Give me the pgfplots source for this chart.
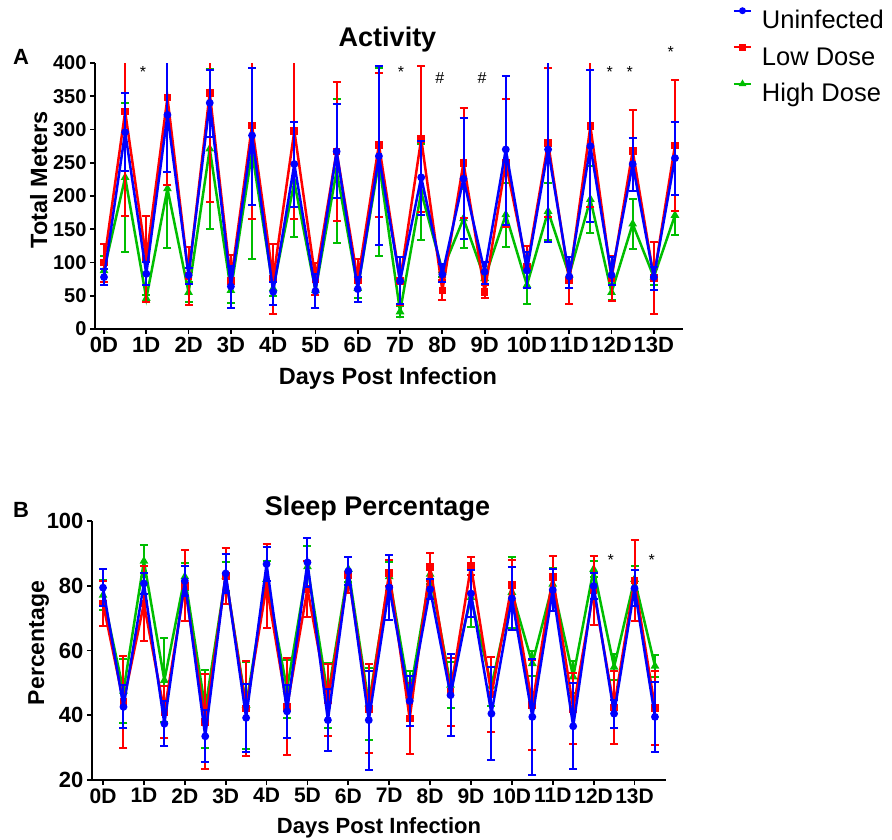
\documentclass[border=0pt]{standalone}
\usepackage{pgfplots}
\pgfplotsset{compat=1.18}
\usepackage{pgfplotstable}
\usepackage{fontspec}
\setmainfont{Liberation Sans}
\definecolor{gpblue}{RGB}{0,0,255}
\definecolor{gpred}{RGB}{255,0,0}
\definecolor{gpgreen}{RGB}{0,190,0}
\newcommand\fs[1]{\fontsize{#1}{#1}\selectfont}

% Panel A: Activity (Total Meters)
\pgfplotstableread{
x y ep em
0 78 12 12
0.5 296 59 59
1 83 18 17
1.5 322 90 86
2 81 11 14
2.5 340 50 52
3 64 30 32
3.5 291 101 104
4 56 15 20
4.5 248 63 64
5 57 26 26
5.5 267 71 70
6 60 18 20
6.5 260 135 133
7 72 36 34
7.5 228 55 57
8 82 16 11
8.5 226 91 91
9 86 15 18
9.5 270 111 114
10 88 28 27
10.5 270 139 139
11 79 29 17
11.5 275 115 114
12 81 27 15
12.5 248 39 40
13 78 15 20
13.5 257 55 55
}\actU
\pgfplotstableread{
x y ep em
0 100 28 29
0.5 327 157 157
1 105 65 64
1.5 348 132 132
2 80 44 44
2.5 355 164 164
3 72 40 41
3.5 306 140 140
4 75 53 53
4.5 298 132 132
5 75 24 24
5.5 267 104 104
6 73 33 33
6.5 277 108 108
7 72 36 36
7.5 286 110 110
8 58 15 15
8.5 250 83 83
9 56 10 10
9.5 250 96 96
10 93 32 32
10.5 280 112 112
11 73 35 35
11.5 305 122 122
12 76 34 34
12.5 268 61 61
13 77 54 54
13.5 276 99 99
}\actL
\pgfplotstableread{
x y ep em
0 88 22 22
0.5 228 112 112
1 46 5 5
1.5 211 89 89
2 55 15 15
2.5 271 120 120
3 58 19 19
3.5 266 160 160
4 61 12 12
4.5 221 82 82
5 58 27 27
5.5 238 108 108
6 61 15 15
6.5 251 141 141
7 26 8 8
7.5 206 72 72
8 88 10 10
8.5 166 44 44
9 76 10 10
9.5 172 48 48
10 66 29 29
10.5 177 43 43
11 81 20 20
11.5 195 50 50
12 55 12 12
12.5 158 37 37
13 78 12 12
13.5 171 30 30
}\actH

% Panel B: Sleep Percentage
\pgfplotstableread{
x y ep em
0 79.4 5.8 5.8
0.5 42.6 6.6 6.6
1 80.7 3.3 3.3
1.5 37.4 6.9 6.9
2 81.5 4.6 4.6
2.5 33.5 8 8
3 83.8 6 6
3.5 39.2 10.5 10.5
4 86.7 5.3 5.3
4.5 41.2 8.2 8.2
5 87.2 7.5 7.5
5.5 38.5 9.5 9.5
6 84.5 4.3 4.3
6.5 38.5 15.3 15.3
7 79.5 10.1 10.1
7.5 44.4 7.7 7.7
8 78.9 3.1 3.1
8.5 46.2 12.7 12.7
9 77.6 7.3 7.3
9.5 40.5 14.3 14.3
10 76.1 9.7 9.7
10.5 39.5 18 18
11 78.7 6.6 6.6
11.5 36.6 13.3 13.3
12 79.9 3.9 3.9
12.5 40.5 4.3 4.3
13 79.2 5.6 5.6
13.5 39.5 10.7 10.7
}\slpU
\pgfplotstableread{
x y ep em
0 74.5 7 7
0.5 44.1 14.2 14.2
1 74.5 11.5 11.5
1.5 41 8 8
2 80 11 11
2.5 38 14.7 14.7
3 83 8.6 8.6
3.5 42.1 14.8 14.8
4 80 13 13
4.5 42.6 15 15
5 79 8.5 8.5
5.5 44.7 11 11
6 83.3 5.5 5.5
6.5 42 13.8 13.8
7 84 4 4
7.5 39 11 11
8 85.9 4.3 4.3
8.5 47.2 10.4 10.4
9 86.1 2.8 2.8
9.5 46.4 11.6 11.6
10 80.2 7.7 7.7
10.5 43.2 13.8 13.8
11 82.7 6.6 6.6
11.5 42 11 11
12 78.5 10.6 10.6
12.5 42.4 11.4 11.4
13 81.6 12.5 12.5
13.5 42.3 11.4 11.4
}\slpL
\pgfplotstableread{
x y ep em
0 77.1 4.6 4.6
0.5 47.5 10 10
1 87.6 5 5
1.5 50.8 13 13
2 82.8 4.2 4.2
2.5 42 12 12
3 82.8 4.4 4.4
3.5 43.1 13.5 13.5
4 82 5.5 5.5
4.5 48 9 9
5 85.9 6.5 6.5
5.5 46 10 10
6 85.1 3.8 3.8
6.5 43.5 11 11
7 82.8 4.5 4.5
7.5 46 7.8 7.8
8 83.6 3 3
8.5 49.3 7 7
9 76.4 9 9
9.5 49 6 6
10 78 11 11
10.5 56 4 4
11 80.5 5 5
11.5 51.9 5 5
12 85.1 2.5 2.5
12.5 54.9 3.9 3.9
13 82 4 4
13.5 55.2 3.5 3.5
}\slpH

\pgfplotsset{
  gpaxis/.style={
    scale only axis,
    axis x line*=bottom, axis y line*=left,
    axis line style={line width=1.8pt, black},
    every tick/.style={line width=1.8pt, black},
    tick align=outside,
    major tick length=5pt,
    xtick={0,...,13},
    xticklabels={0D,1D,2D,3D,4D,5D,6D,7D,8D,9D,10D,11D,12D,13D},
    clip mode=individual,
    /pgf/number format/assume math mode=true,
  },
  ser/.style={
    color=#1, line width=2.5pt, mark size=2.6pt,
    mark options={solid, fill=#1},
    /pgfplots/error bars/y dir=both,
    /pgfplots/error bars/y explicit,
    /pgfplots/error bars/error bar style={line width=2pt, color=#1},
    /pgfplots/error bars/error mark options={rotate=90, line width=2pt, mark size=4pt, color=#1},
  },
}

\begin{document}
\begin{tikzpicture}
\path[use as bounding box] (0pt,0pt) rectangle (892pt,-840pt);

% ---------- Panel A ----------
\begin{axis}[gpaxis,
  at={(95pt,-329pt)}, anchor=south west,
  width=588pt, height=266pt,
  xmin=-0.213, xmax=13.69, ymin=0, ymax=400,
  ytick={0,50,...,400},
  xticklabel style={font=\bfseries\fs{22}},
  yticklabel style={font=\bfseries\fs{20}},
  reverse legend,
  legend style={at={(axis description cs:1.085,1.2056)}, anchor=north west,
    draw=none, fill=none, inner sep=0pt, outer sep=0pt,
    font=\fs{25.5}, row sep=16pt,
    nodes={inner sep=0pt, text height=18.3pt, text depth=0pt},
    /tikz/every odd column/.append style={column sep=10pt}},
  legend cell align=left,
  legend image code/.code={\draw[mark repeat=2, mark phase=2, line width=2pt, mark size=2.4pt] plot coordinates {(0pt,9pt) (8.5pt,9pt) (17pt,9pt)};},
]
\addplot[ser=gpgreen, mark=triangle*] table[x=x, y=y, y error plus=ep, y error minus=em] {\actH};
\addplot[ser=gpred, mark=square*] table[x=x, y=y, y error plus=ep, y error minus=em] {\actL};
\addplot[ser=gpblue, mark=*] table[x=x, y=y, y error plus=ep, y error minus=em] {\actU};
\legend{High Dose, Low Dose, Uninfected}
\node[font=\fs{16}] at (axis cs:0.92,386) {*};
\node[font=\fs{16}] at (axis cs:7.02,386) {*};
\node[font=\fs{16}] at (axis cs:7.94,377) {\#};
\node[font=\fs{16}] at (axis cs:8.94,377) {\#};
\node[font=\fs{16}] at (axis cs:11.96,386) {*};
\node[font=\fs{16}] at (axis cs:12.43,386) {*};
\node[font=\fs{16}] at (axis cs:13.4,416) {*};
\end{axis}

% ---------- Panel B ----------
\begin{axis}[gpaxis,
  at={(92pt,-780pt)}, anchor=south west,
  width=574pt, height=259pt,
  xmin=-0.27, xmax=13.77, ymin=20, ymax=100,
  ytick={20,40,...,100},
  xticklabel style={font=\bfseries\fs{21}},
  yticklabel style={font=\bfseries\fs{22}},
]
\addplot[ser=gpgreen, mark=triangle*] table[x=x, y=y, y error plus=ep, y error minus=em] {\slpH};
\addplot[ser=gpred, mark=square*] table[x=x, y=y, y error plus=ep, y error minus=em] {\slpL};
\addplot[ser=gpblue, mark=*] table[x=x, y=y, y error plus=ep, y error minus=em] {\slpU};
\node[font=\fs{16}] at (axis cs:12.42,88) {*};
\node[font=\fs{16}] at (axis cs:13.42,88) {*};
\end{axis}

% ---------- Texts ----------
\node[font=\bfseries\fs{22}] at (21pt,-57pt) {A};
\node[font=\bfseries\fs{22}] at (21pt,-510pt) {B};
\node[font=\bfseries\fs{27}, anchor=base] at (387.5pt,-46.7pt) {Activity};
\node[font=\bfseries\fs{27}, anchor=base] at (377.5pt,-515.7pt) {Sleep Percentage};
\node[font=\bfseries\fs{23.5}, anchor=base, rotate=90] at (47pt,-180pt) {Total Meters};
\node[font=\bfseries\fs{23}, anchor=base, rotate=90] at (44pt,-643pt) {Percentage};
\node[font=\bfseries\fs{23.5}, anchor=base] at (388pt,-384pt) {Days Post Infection};
\node[font=\bfseries\fs{22}, anchor=base] at (379pt,-833pt) {Days Post Infection};
\end{tikzpicture}
\end{document}
